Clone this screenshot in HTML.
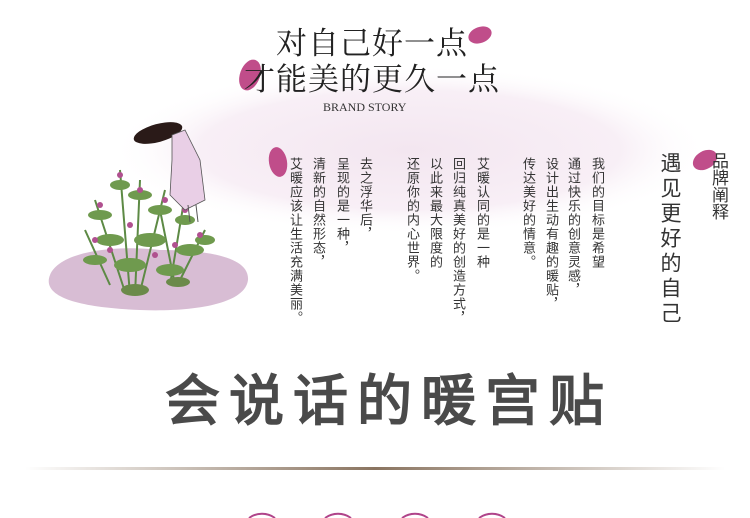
<!DOCTYPE html>
<html><head><meta charset="utf-8">
<style>
html,body{margin:0;padding:0;background:#fff;width:750px;height:518px;overflow:hidden;}
#root{position:relative;width:750px;height:518px;overflow:hidden;background:#fff;font-family:"Liberation Serif","Noto Serif CJK SC",serif;}
.abs{position:absolute;}
.vcol{position:absolute;top:157px;writing-mode:vertical-rl;font-family:"Liberation Sans","Noto Sans CJK SC",sans-serif;font-size:13px;line-height:14px;letter-spacing:1px;color:#333;}
.hand{writing-mode:vertical-rl;font-family:"Liberation Sans","WenQuanYi Zen Hei",sans-serif;color:#333;position:absolute;}
</style></head>
<body>
<div id="root">
<svg class="abs" style="left:0;top:0;overflow:hidden" width="750" height="518">
  <defs>
    <radialGradient id="pk" cx="50%" cy="50%" r="50%">
      <stop offset="0" stop-color="#f3e6f0"/><stop offset="0.7" stop-color="#f8eff6"/><stop offset="1" stop-color="#fff" stop-opacity="0"/>
    </radialGradient>
    <linearGradient id="ln" x1="0" x2="1">
      <stop offset="0" stop-color="#fff"/><stop offset="0.5" stop-color="#8a7460"/><stop offset="1" stop-color="#fff"/>
    </linearGradient>
  </defs>
  <ellipse cx="410" cy="150" rx="300" ry="85" fill="url(#pk)"/>
  <path d="M50 275 C60 250 120 245 160 250 C200 250 250 255 248 280 C245 305 190 312 140 310 C90 308 40 300 50 275Z" fill="#d8bdd4"/>
  <g stroke="#5d8a45" stroke-width="2" fill="none">
    <path d="M130 295 L120 170 M135 295 L140 180 M125 292 L95 200 M140 292 L165 190 M170 285 L185 195 M175 285 L160 210 M110 285 L85 230 M180 280 L205 230"/>
  </g>
  <g fill="#6f9a4e">
    <ellipse cx="120" cy="185" rx="10" ry="5"/><ellipse cx="140" cy="195" rx="12" ry="5"/><ellipse cx="100" cy="215" rx="12" ry="5"/>
    <ellipse cx="160" cy="210" rx="12" ry="5"/><ellipse cx="185" cy="220" rx="10" ry="5"/><ellipse cx="110" cy="240" rx="14" ry="6"/>
    <ellipse cx="150" cy="240" rx="16" ry="7"/><ellipse cx="190" cy="250" rx="14" ry="6"/><ellipse cx="95" cy="260" rx="12" ry="5"/>
    <ellipse cx="130" cy="265" rx="16" ry="7"/><ellipse cx="170" cy="270" rx="14" ry="6"/><ellipse cx="205" cy="240" rx="10" ry="5"/>
    <ellipse cx="135" cy="290" rx="14" ry="6" fill="#6b8a4a"/><ellipse cx="178" cy="282" rx="12" ry="5" fill="#6b8a4a"/>
  </g>
  <g fill="#b0508f">
    <circle cx="120" cy="175" r="3"/><circle cx="140" cy="190" r="3"/><circle cx="100" cy="205" r="3"/><circle cx="165" cy="200" r="3"/>
    <circle cx="130" cy="225" r="3"/><circle cx="185" cy="210" r="3"/><circle cx="110" cy="250" r="3"/><circle cx="155" cy="255" r="3"/>
    <circle cx="200" cy="235" r="3"/><circle cx="95" cy="240" r="3"/><circle cx="175" cy="245" r="3"/>
  </g>
  <g>
    <ellipse cx="158" cy="133" rx="25" ry="9" transform="rotate(-15 158 133)" fill="#2a1a18"/>
    <path d="M172 135 L185 130 L200 160 L205 200 L185 210 L170 195 L172 160Z" fill="#e9cfe6" stroke="#555" stroke-width="0.8"/>
    <path d="M188 205 L190 222 M196 205 L198 222" stroke="#555" stroke-width="1"/>
  </g>
  <g fill="#c04d8a">
    <ellipse cx="480" cy="35" rx="12" ry="8" transform="rotate(-20 480 35)"/>
    <ellipse cx="250" cy="75" rx="10" ry="16" transform="rotate(20 250 75)"/>
    <ellipse cx="278" cy="162" rx="9" ry="15" transform="rotate(-10 278 162)"/>
    <ellipse cx="705" cy="160" rx="13" ry="9" transform="rotate(-30 705 160)"/>
  </g>
  <rect x="25" y="467" width="700" height="3" fill="url(#ln)"/>
  <g fill="none" stroke="#b0448a" stroke-width="2">
    <path d="M249 518 A22 22 0 0 1 275 518"/>
    <path d="M325 518 A22 22 0 0 1 351 518"/>
    <path d="M402 518 A22 22 0 0 1 428 518"/>
    <path d="M479 518 A22 22 0 0 1 505 518"/>
  </g>
</svg>

<div class="abs" style="left:276px;top:18px;font-size:31px;color:#222;letter-spacing:1px;white-space:nowrap;">对自己好一点</div>
<div class="abs" style="left:244px;top:54px;font-size:31px;color:#222;letter-spacing:1px;white-space:nowrap;">才能美的更久一点</div>
<div class="abs" style="left:323px;top:100px;font-size:12px;color:#333;white-space:nowrap;">BRAND STORY</div>

<div class="vcol" style="left:590px">我们的目标是希望</div>
<div class="vcol" style="left:566px">通过快乐的创意灵感，</div>
<div class="vcol" style="left:544px">设计出生动有趣的暖贴，</div>
<div class="vcol" style="left:521px">传达美好的情意。</div>
<div class="vcol" style="left:475px">艾暖认同的是一种</div>
<div class="vcol" style="left:451px">回归纯真美好的创造方式，</div>
<div class="vcol" style="left:428px">以此来最大限度的</div>
<div class="vcol" style="left:405px">还原你的内心世界。</div>
<div class="vcol" style="left:358px">去之浮华后，</div>
<div class="vcol" style="left:335px">呈现的是一种，</div>
<div class="vcol" style="left:311px">清新的自然形态，</div>
<div class="vcol" style="left:288px">艾暖应该让生活充满美丽。</div>

<div class="hand" style="left:709px;top:152px;font-size:17px;line-height:18px;">品牌阐释</div>
<div class="hand" style="left:658px;top:152px;font-size:21px;line-height:22px;letter-spacing:4px;">遇见更好的自己</div>

<div class="abs" style="left:165px;top:356px;font-family:'Liberation Sans','WenQuanYi Zen Hei',sans-serif;font-size:55px;font-weight:bold;color:#4a4a4a;letter-spacing:9px;white-space:nowrap;">会说话的暖宫贴</div>
</div>
</body></html>
